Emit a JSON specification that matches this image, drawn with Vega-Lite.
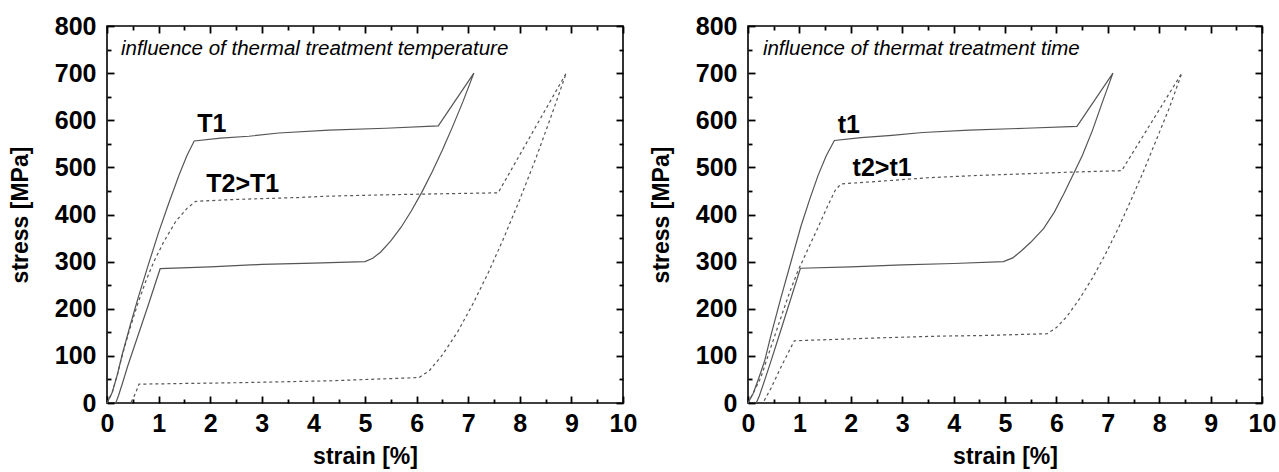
{
  "$schema": "https://vega.github.io/schema/vega-lite/v6.json",
  "background": "white",
  "padding": {"left": 8, "top": 13, "right": 10, "bottom": 0},
  "spacing": 11,
  "config": {
    "view": {"stroke": "black", "strokeWidth": 1.6},
    "font": "Liberation Sans",
    "axis": {
      "grid": false,
      "domain": false,
      "ticks": true,
      "tickColor": "black",
      "tickOpacity": 1,
      "tickWidth": 1.8,
      "labelColor": "black",
      "titleColor": "black",
      "labelFont": "Liberation Sans",
      "titleFont": "Liberation Sans",
      "labelFontSize": 25,
      "labelFontWeight": "bold",
      "titleFontSize": 23,
      "titleFontWeight": "bold",
      "labelFlush": false,
      "labelOverlap": false
    }
  },
  "datasets": {
    "T1": [
      {"strain": 0, "stress": 0}, {"strain": 0.1, "stress": 22}, {"strain": 0.2, "stress": 60}, {"strain": 0.3, "stress": 105},
      {"strain": 0.45, "stress": 165}, {"strain": 0.6, "stress": 222}, {"strain": 0.8, "stress": 293}, {"strain": 1.0, "stress": 362},
      {"strain": 1.2, "stress": 425}, {"strain": 1.4, "stress": 485}, {"strain": 1.55, "stress": 525}, {"strain": 1.69, "stress": 556},
      {"strain": 2.2, "stress": 562}, {"strain": 2.75, "stress": 566}, {"strain": 3.33, "stress": 573}, {"strain": 4.3, "stress": 579},
      {"strain": 5.4, "stress": 583}, {"strain": 6.42, "stress": 588}, {"strain": 7.11, "stress": 700},
      {"strain": 6.9, "stress": 640}, {"strain": 6.7, "stress": 587}, {"strain": 6.5, "stress": 537}, {"strain": 6.3, "stress": 490},
      {"strain": 6.1, "stress": 447}, {"strain": 5.9, "stress": 408}, {"strain": 5.7, "stress": 373}, {"strain": 5.5, "stress": 344},
      {"strain": 5.3, "stress": 320}, {"strain": 5.15, "stress": 307}, {"strain": 5.0, "stress": 300},
      {"strain": 4.0, "stress": 297}, {"strain": 3.0, "stress": 294}, {"strain": 2.0, "stress": 289}, {"strain": 1.03, "stress": 285},
      {"strain": 0.8, "stress": 208}, {"strain": 0.56, "stress": 130}, {"strain": 0.4, "stress": 78}, {"strain": 0.3, "stress": 42},
      {"strain": 0.22, "stress": 15}, {"strain": 0.17, "stress": 0}
    ],
    "T2": [
      {"strain": 0, "stress": 0}, {"strain": 0.1, "stress": 22}, {"strain": 0.2, "stress": 60}, {"strain": 0.3, "stress": 103},
      {"strain": 0.45, "stress": 160}, {"strain": 0.6, "stress": 212}, {"strain": 0.75, "stress": 258}, {"strain": 0.9, "stress": 298},
      {"strain": 1.1, "stress": 342}, {"strain": 1.33, "stress": 385}, {"strain": 1.55, "stress": 413}, {"strain": 1.72, "stress": 428},
      {"strain": 2.5, "stress": 432}, {"strain": 3.7, "stress": 436}, {"strain": 4.3, "stress": 439}, {"strain": 5.5, "stress": 442},
      {"strain": 6.5, "stress": 444}, {"strain": 7.58, "stress": 446}, {"strain": 8.9, "stress": 700},
      {"strain": 8.6, "stress": 606}, {"strain": 8.3, "stress": 516}, {"strain": 8.0, "stress": 432}, {"strain": 7.7, "stress": 353},
      {"strain": 7.4, "stress": 279}, {"strain": 7.1, "stress": 212}, {"strain": 6.8, "stress": 152}, {"strain": 6.5, "stress": 102},
      {"strain": 6.25, "stress": 69}, {"strain": 6.05, "stress": 54},
      {"strain": 4.3, "stress": 47}, {"strain": 2.5, "stress": 43}, {"strain": 0.62, "stress": 40}, {"strain": 0.55, "stress": 20},
      {"strain": 0.46, "stress": 0}
    ],
    "t1": [
      {"strain": 0, "stress": 0}, {"strain": 0.1, "stress": 20}, {"strain": 0.2, "stress": 50}, {"strain": 0.32, "stress": 88},
      {"strain": 0.45, "stress": 145}, {"strain": 0.64, "stress": 223}, {"strain": 0.85, "stress": 305}, {"strain": 1.03, "stress": 375},
      {"strain": 1.2, "stress": 432}, {"strain": 1.36, "stress": 482}, {"strain": 1.52, "stress": 524}, {"strain": 1.68, "stress": 557},
      {"strain": 2.2, "stress": 563}, {"strain": 2.8, "stress": 568}, {"strain": 3.4, "stress": 574}, {"strain": 4.3, "stress": 579},
      {"strain": 5.4, "stress": 583}, {"strain": 6.4, "stress": 587}, {"strain": 7.1, "stress": 700},
      {"strain": 6.9, "stress": 640}, {"strain": 6.7, "stress": 578}, {"strain": 6.5, "stress": 524}, {"strain": 6.35, "stress": 490},
      {"strain": 6.15, "stress": 445}, {"strain": 5.96, "stress": 405}, {"strain": 5.75, "stress": 370}, {"strain": 5.5, "stress": 341},
      {"strain": 5.31, "stress": 322}, {"strain": 5.15, "stress": 308}, {"strain": 4.97, "stress": 300},
      {"strain": 4.0, "stress": 296}, {"strain": 3.0, "stress": 293}, {"strain": 2.0, "stress": 289}, {"strain": 1.02, "stress": 286},
      {"strain": 0.8, "stress": 210}, {"strain": 0.64, "stress": 155}, {"strain": 0.45, "stress": 90}, {"strain": 0.32, "stress": 47},
      {"strain": 0.22, "stress": 15}, {"strain": 0.16, "stress": 0}
    ],
    "t2": [
      {"strain": 0, "stress": 0}, {"strain": 0.12, "stress": 25}, {"strain": 0.25, "stress": 54}, {"strain": 0.45, "stress": 120},
      {"strain": 0.64, "stress": 181}, {"strain": 0.8, "stress": 232}, {"strain": 0.97, "stress": 280}, {"strain": 1.16, "stress": 325},
      {"strain": 1.36, "stress": 372}, {"strain": 1.55, "stress": 418}, {"strain": 1.7, "stress": 452}, {"strain": 1.81, "stress": 465},
      {"strain": 2.5, "stress": 470}, {"strain": 3.5, "stress": 478}, {"strain": 4.5, "stress": 483}, {"strain": 5.31, "stress": 486},
      {"strain": 6.3, "stress": 490}, {"strain": 7.27, "stress": 493}, {"strain": 8.44, "stress": 700},
      {"strain": 8.2, "stress": 627}, {"strain": 7.95, "stress": 560}, {"strain": 7.7, "stress": 493}, {"strain": 7.45, "stress": 430},
      {"strain": 7.2, "stress": 370}, {"strain": 6.95, "stress": 315}, {"strain": 6.7, "stress": 265}, {"strain": 6.45, "stress": 221},
      {"strain": 6.2, "stress": 183}, {"strain": 6.0, "stress": 160}, {"strain": 5.82, "stress": 147},
      {"strain": 4.5, "stress": 143}, {"strain": 3.75, "stress": 142}, {"strain": 2.5, "stress": 138}, {"strain": 0.9, "stress": 132},
      {"strain": 0.65, "stress": 78}, {"strain": 0.45, "stress": 32}, {"strain": 0.29, "stress": 0}
    ],
    "leftLabels": [
      {"strain": 2.03, "stress": 592, "label": "T1"},
      {"strain": 2.63, "stress": 465, "label": "T2>T1"}
    ],
    "rightLabels": [
      {"strain": 1.96, "stress": 590, "label": "t1"},
      {"strain": 2.61, "stress": 499, "label": "t2>t1"}
    ],
    "leftNote": [{"strain": 0.27, "stress": 751, "note": "influence of thermal treatment temperature"}],
    "rightNote": [{"strain": 0.29, "stress": 751, "note": "influence of thermat treatment time"}]
  },
  "hconcat": [
    {
      "width": 516,
      "height": 377,
      "resolve": {"axis": {"x": "independent", "y": "independent"}},
      "layer": [
        {
          "data": {"name": "T1"},
          "mark": {"type": "line", "color": "#555555", "strokeWidth": 1.2},
          "encoding": {
            "x": {"field": "strain", "type": "quantitative", "scale": {"domain": [0, 10], "nice": false},
              "axis": {"orient": "bottom", "title": "strain [%]", "values": [0,1,2,3,4,5,6,7,8,9,10], "format": "d",
                "offset": -7, "tickSize": 7, "labelPadding": 8, "titlePadding": 9}},
            "y": {"field": "stress", "type": "quantitative", "scale": {"domain": [0, 800], "nice": false},
              "axis": {"orient": "left", "title": "stress [MPa]", "values": [0,100,200,300,400,500,600,700,800], "format": "d",
                "offset": -7, "tickSize": 7, "labelPadding": 11, "titlePadding": 22}},
            "order": {"value": null}
          }
        },
        {
          "data": {"name": "T2"},
          "mark": {"type": "line", "color": "#555555", "strokeWidth": 1.2, "strokeDash": [3, 3]},
          "encoding": {
            "x": {"field": "strain", "type": "quantitative",
              "axis": {"orient": "top", "title": null, "labels": false, "values": [0,1,2,3,4,5,6,7,8,9,10], "offset": -7, "tickSize": 7}},
            "y": {"field": "stress", "type": "quantitative",
              "axis": {"orient": "right", "title": null, "labels": false, "values": [0,100,200,300,400,500,600,700,800], "offset": -7, "tickSize": 7}},
            "order": {"value": null}
          }
        },
        {
          "data": {"name": "leftLabels"},
          "mark": {"type": "text", "font": "Liberation Sans", "fontSize": 25, "fontWeight": "bold", "color": "black", "align": "center", "baseline": "middle"},
          "encoding": {
            "x": {"field": "strain", "type": "quantitative",
              "axis": {"orient": "bottom", "title": null, "labels": false, "values": [0.5,1.5,2.5,3.5,4.5,5.5,6.5,7.5,8.5,9.5], "offset": -4, "tickSize": 4}},
            "y": {"field": "stress", "type": "quantitative",
              "axis": {"orient": "left", "title": null, "labels": false, "values": [50,150,250,350,450,550,650,750], "offset": -4, "tickSize": 4}},
            "text": {"field": "label"}
          }
        },
        {
          "data": {"name": "leftNote"},
          "mark": {"type": "text", "font": "Liberation Sans", "fontSize": 20.5, "fontStyle": "italic", "color": "black", "align": "left", "baseline": "middle"},
          "encoding": {
            "x": {"field": "strain", "type": "quantitative",
              "axis": {"orient": "top", "title": null, "labels": false, "values": [0.5,1.5,2.5,3.5,4.5,5.5,6.5,7.5,8.5,9.5], "offset": -4, "tickSize": 4}},
            "y": {"field": "stress", "type": "quantitative",
              "axis": {"orient": "right", "title": null, "labels": false, "values": [50,150,250,350,450,550,650,750], "offset": -4, "tickSize": 4}},
            "text": {"field": "note"}
          }
        }
      ]
    },
    {
      "width": 514,
      "height": 377,
      "resolve": {"axis": {"x": "independent", "y": "independent"}},
      "layer": [
        {
          "data": {"name": "t1"},
          "mark": {"type": "line", "color": "#555555", "strokeWidth": 1.2},
          "encoding": {
            "x": {"field": "strain", "type": "quantitative", "scale": {"domain": [0, 10], "nice": false},
              "axis": {"orient": "bottom", "title": "strain [%]", "values": [0,1,2,3,4,5,6,7,8,9,10], "format": "d",
                "offset": -7, "tickSize": 7, "labelPadding": 8, "titlePadding": 9}},
            "y": {"field": "stress", "type": "quantitative", "scale": {"domain": [0, 800], "nice": false},
              "axis": {"orient": "left", "title": "stress [MPa]", "values": [0,100,200,300,400,500,600,700,800], "format": "d",
                "offset": -7, "tickSize": 7, "labelPadding": 11, "titlePadding": 22}},
            "order": {"value": null}
          }
        },
        {
          "data": {"name": "t2"},
          "mark": {"type": "line", "color": "#555555", "strokeWidth": 1.2, "strokeDash": [3, 3]},
          "encoding": {
            "x": {"field": "strain", "type": "quantitative",
              "axis": {"orient": "top", "title": null, "labels": false, "values": [0,1,2,3,4,5,6,7,8,9,10], "offset": -7, "tickSize": 7}},
            "y": {"field": "stress", "type": "quantitative",
              "axis": {"orient": "right", "title": null, "labels": false, "values": [0,100,200,300,400,500,600,700,800], "offset": -7, "tickSize": 7}},
            "order": {"value": null}
          }
        },
        {
          "data": {"name": "rightLabels"},
          "mark": {"type": "text", "font": "Liberation Sans", "fontSize": 25, "fontWeight": "bold", "color": "black", "align": "center", "baseline": "middle"},
          "encoding": {
            "x": {"field": "strain", "type": "quantitative",
              "axis": {"orient": "bottom", "title": null, "labels": false, "values": [0.5,1.5,2.5,3.5,4.5,5.5,6.5,7.5,8.5,9.5], "offset": -4, "tickSize": 4}},
            "y": {"field": "stress", "type": "quantitative",
              "axis": {"orient": "left", "title": null, "labels": false, "values": [50,150,250,350,450,550,650,750], "offset": -4, "tickSize": 4}},
            "text": {"field": "label"}
          }
        },
        {
          "data": {"name": "rightNote"},
          "mark": {"type": "text", "font": "Liberation Sans", "fontSize": 20.5, "fontStyle": "italic", "color": "black", "align": "left", "baseline": "middle"},
          "encoding": {
            "x": {"field": "strain", "type": "quantitative",
              "axis": {"orient": "top", "title": null, "labels": false, "values": [0.5,1.5,2.5,3.5,4.5,5.5,6.5,7.5,8.5,9.5], "offset": -4, "tickSize": 4}},
            "y": {"field": "stress", "type": "quantitative",
              "axis": {"orient": "right", "title": null, "labels": false, "values": [50,150,250,350,450,550,650,750], "offset": -4, "tickSize": 4}},
            "text": {"field": "note"}
          }
        }
      ]
    }
  ]
}
